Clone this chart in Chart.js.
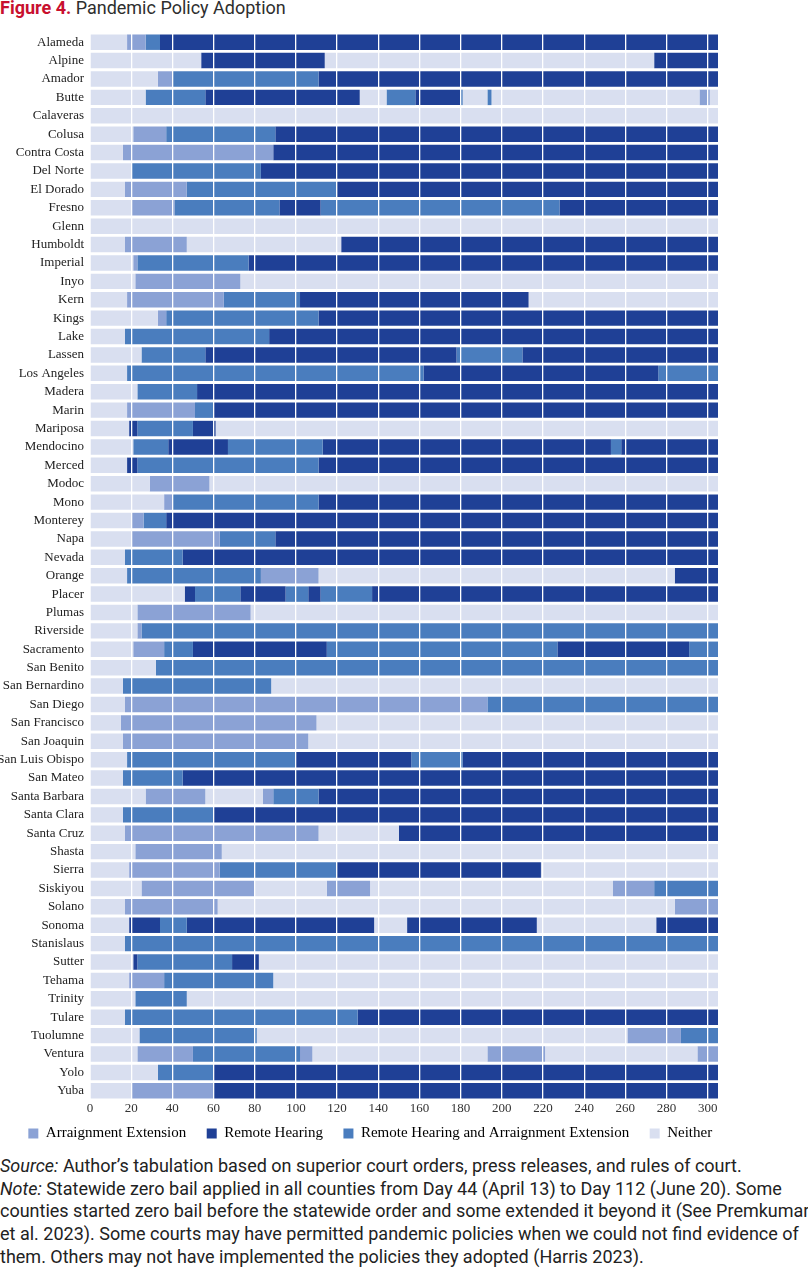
<!DOCTYPE html>
<html>
<head>
<meta charset="utf-8">
<script src="https://cdn.jsdelivr.net/npm/chart.js@4.4.1/dist/chart.umd.min.js"></script>
<style>
  body { margin: 0; background: #fff; width: 808px; height: 1280px; position: relative; overflow: hidden; }
  #title { position: absolute; left: 0; top: -3px; font: 18px Roboto, sans-serif; color: #2e2e2e; white-space: nowrap; }
  #title b { color: #c8102e; }
  #wrap { position: absolute; left: 0; top: 0; width: 808px; height: 1151px; }
  #notes { position: absolute; left: 0; top: 1155px; font: 18px Roboto, sans-serif; line-height: 22.7px; color: #222; white-space: nowrap; }
</style>
</head>
<body>
<div id="title"><b>Figure 4.</b> Pandemic Policy Adoption</div>
<div id="wrap"><canvas id="policyChart" width="808" height="1151"></canvas></div>
<div id="notes">
<i>Source:</i> Author’s tabulation based on superior court orders, press releases, and rules of court.<br>
<i>Note:</i> Statewide zero bail applied in all counties from Day 44 (April 13) to Day 112 (June 20). Some<br>
counties started zero bail before the statewide order and some extended it beyond it (See Premkumar<br>
et al. 2023). Some courts may have permitted pandemic policies when we could not find evidence of<br>
them. Others may not have implemented the policies they adopted (Harris 2023).
</div>
<script>
// policy codes (index into policies / policyColors)
const A = 0, R = 1, B = 2, N = 3;

const policies = ["Arraignment Extension", "Remote Hearing", "Remote Hearing and Arraignment Extension", "Neither"];
const policyColors = ["#8ba2d5", "#1f4096", "#4a7dbe", "#d9dff0"];
const lastDay = 305;

const counties = [
  "Alameda", "Alpine", "Amador", "Butte", "Calaveras", "Colusa", "Contra Costa", "Del Norte",
  "El Dorado", "Fresno", "Glenn", "Humboldt", "Imperial", "Inyo", "Kern", "Kings", "Lake",
  "Lassen", "Los Angeles", "Madera", "Marin", "Mariposa", "Mendocino", "Merced", "Modoc",
  "Mono", "Monterey", "Napa", "Nevada", "Orange", "Placer", "Plumas", "Riverside", "Sacramento",
  "San Benito", "San Bernardino", "San Diego", "San Francisco", "San Joaquin", "San Luis Obispo",
  "San Mateo", "Santa Barbara", "Santa Clara", "Santa Cruz", "Shasta", "Sierra", "Siskiyou",
  "Solano", "Sonoma", "Stanislaus", "Sutter", "Tehama", "Trinity", "Tulare", "Tuolumne",
  "Ventura", "Yolo", "Yuba"
];

// each county: [day the policy starts, policy code], runs until the next entry (or lastDay)
const timelines = [
  [[0, N], [18, A], [27, B], [34, R]],                                   // Alameda
  [[0, N], [54, R], [114, N], [274, R]],                                 // Alpine
  [[0, N], [33, A], [40, B], [111, R]],                                  // Amador
  [[0, N], [27, B], [56, R], [131, N], [144, B], [158, R], [180, B], [181, N], [193, B], [195, N], [296, A], [301, N]], // Butte
  [[0, N]],                                                              // Calaveras
  [[0, N], [21, A], [37, B], [90, R]],                                   // Colusa
  [[0, N], [16, A], [89, R]],                                            // Contra Costa
  [[0, N], [20, B], [83, R]],                                            // Del Norte
  [[0, N], [17, A], [47, B], [120, R]],                                  // El Dorado
  [[0, N], [20, A], [41, B], [92, R], [112, B], [228, R]],               // Fresno
  [[0, N]],                                                              // Glenn
  [[0, N], [17, A], [47, N], [122, R]],                                  // Humboldt
  [[0, N], [21, A], [23, B], [77, R]],                                   // Imperial
  [[0, N], [22, A], [73, N]],                                            // Inyo
  [[0, N], [18, A], [65, B], [102, R], [213, N]],                        // Kern
  [[0, N], [33, A], [37, B], [111, R]],                                  // Kings
  [[0, N], [17, B], [87, R]],                                            // Lake
  [[0, N], [25, B], [56, R], [178, B], [210, R]],                        // Lassen
  [[0, N], [18, B], [162, R], [276, B]],                                 // Los Angeles
  [[0, N], [23, B], [52, R]],                                            // Madera
  [[0, N], [18, A], [51, B], [60, R]],                                   // Marin
  [[0, N], [19, R], [23, B], [50, R], [61, N]],                          // Mariposa
  [[0, N], [21, B], [38, R], [67, B], [113, R], [253, B], [258, R]],     // Mendocino
  [[0, N], [18, R], [23, B], [111, R]],                                  // Merced
  [[0, N], [29, A], [58, N]],                                            // Modoc
  [[0, N], [36, A], [40, B], [111, R]],                                  // Mono
  [[0, N], [20, A], [26, B], [37, R]],                                   // Monterey
  [[0, N], [20, A], [63, B], [90, R]],                                   // Napa
  [[0, N], [17, B], [45, R]],                                            // Nevada
  [[0, N], [18, B], [83, A], [111, N], [284, R]],                        // Orange
  [[0, N], [46, R], [51, B], [73, R], [95, B], [106, R], [112, B], [137, R]], // Placer
  [[0, N], [23, A], [78, N]],                                            // Plumas
  [[0, N], [23, A], [25, B]],                                            // Riverside
  [[0, N], [21, A], [36, B], [50, R], [115, B], [227, R], [291, B]],     // Sacramento
  [[0, N], [32, B]],                                                     // San Benito
  [[0, N], [16, B], [88, N]],                                            // San Bernardino
  [[0, N], [17, A], [193, B]],                                           // San Diego
  [[0, N], [15, A], [110, N]],                                           // San Francisco
  [[0, N], [16, A], [106, N]],                                           // San Joaquin
  [[0, N], [18, B], [100, R], [156, B], [181, R]],                       // San Luis Obispo
  [[0, N], [16, B], [45, R]],                                            // San Mateo
  [[0, N], [27, A], [56, N], [84, A], [89, B], [111, R]],                // Santa Barbara
  [[0, N], [16, B], [60, R]],                                            // Santa Clara
  [[0, N], [17, A], [111, N], [150, R]],                                 // Santa Cruz
  [[0, N], [22, A], [64, N]],                                            // Shasta
  [[0, N], [19, A], [63, B], [120, R], [219, N]],                        // Sierra
  [[0, N], [25, A], [80, N], [115, A], [136, N], [254, A], [274, B]],    // Siskiyou
  [[0, N], [17, A], [62, N], [284, A]],                                  // Solano
  [[0, N], [19, R], [34, B], [47, R], [138, N], [154, R], [217, N], [275, R]], // Sonoma
  [[0, N], [17, B]],                                                     // Stanislaus
  [[0, N], [21, R], [23, B], [69, R], [82, N]],                          // Sutter
  [[0, N], [19, A], [36, B], [89, N]],                                   // Tehama
  [[0, N], [22, B], [47, N]],                                            // Trinity
  [[0, N], [17, B], [130, R]],                                           // Tulare
  [[0, N], [24, B], [81, N], [261, A], [287, B]],                        // Tuolumne
  [[0, N], [23, A], [50, B], [102, A], [108, N], [193, A], [221, N], [295, A]], // Ventura
  [[0, N], [33, B], [60, R]],                                            // Yolo
  [[0, N], [20, A], [60, R]]                                             // Yuba
];

// one dataset per segment position, floating bars [start, end]
const maxSeg = Math.max(...timelines.map((t) => t.length));
const datasets = [];
for (let i = 0; i < maxSeg; i++) {
  datasets.push({
    label: "segment " + (i + 1),
    data: timelines.map((t) => (t[i] ? [t[i][0], t[i + 1] ? t[i + 1][0] : lastDay] : null)),
    backgroundColor: timelines.map((t) => (t[i] ? policyColors[t[i][1]] : "rgba(0,0,0,0)")),
    borderWidth: 0,
    grouped: false,
    barPercentage: 0.84,
    categoryPercentage: 1,
  });
}

const serif = "'Liberation Serif', 'DejaVu Serif', serif";

const ctx = document.getElementById("policyChart").getContext("2d");
const myChart = new Chart(ctx, {
  type: "bar",
  data: { labels: counties, datasets: datasets },
  options: {
    indexAxis: "y",
    responsive: false,
    animation: false,
    layout: { padding: { top: 33, right: 60, left: 0, bottom: 0 } },
    plugins: {
      tooltip: { enabled: false },
      legend: {
        position: "bottom",
        onClick: null,
        labels: {
          boxWidth: 10,
          boxHeight: 10,
          padding: 13,
          color: "#222",
          font: { family: serif, size: 15 },
          // trailing spaces widen the gap between entries
          generateLabels: () =>
            policies.map((p, i) => ({
              text: p + "  ",
              fillStyle: policyColors[i],
              strokeStyle: policyColors[i],
              lineWidth: 0,
              hidden: false,
              datasetIndex: i,
            })),
        },
      },
    },
    scales: {
      x: {
        type: "linear",
        min: 0,
        max: lastDay,
        grid: { color: "#ffffff", lineWidth: 1.3, drawTicks: false, z: 1 },
        border: { display: false },
        ticks: {
          stepSize: 20,
          includeBounds: false,
          color: "#333",
          padding: 1,
          font: { family: serif, size: 13 },
        },
        afterFit: (scale) => { scale.height = 13; },
      },
      y: {
        grid: { display: false, drawTicks: false },
        border: { display: false },
        ticks: {
          autoSkip: false,
          color: "#222",
          padding: 6,
          font: { family: serif, size: 13 },
        },
        afterFit: (scale) => { scale.width = 90; },
      },
      // empty right-hand spacer so the plot ends where the reference does
      yRight: {
        type: "category",
        position: "right",
        grid: { display: false, drawTicks: false },
        border: { display: false },
        ticks: { display: false },
        afterFit: (scale) => { scale.width = 30; },
      },
    },
  },
});
</script>
</body>
</html>
